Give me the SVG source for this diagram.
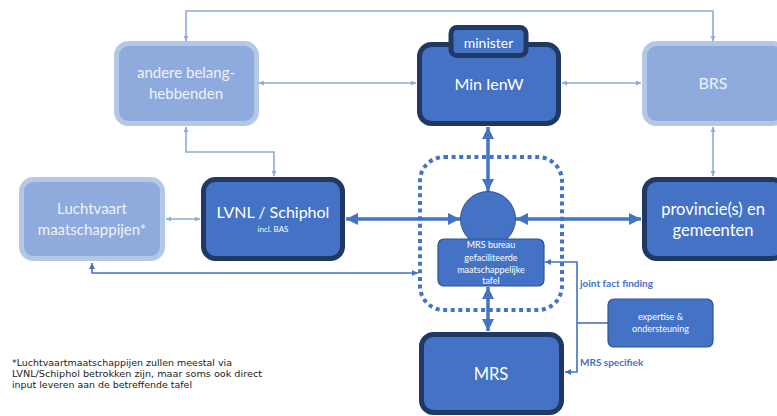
<svg xmlns="http://www.w3.org/2000/svg" width="777" height="416" viewBox="0 0 777 416">
<defs>
<style>
.light{fill:#8faadc;stroke:#b4c7e7;stroke-width:5}
.dark{fill:#4472c4;stroke:#203864;stroke-width:5}
.small{fill:#4472c4;stroke:#2f528f;stroke-width:1.2}
.t{font-family:Lato,"Open Sans","Liberation Sans",sans-serif;fill:#ffffff;text-anchor:middle}
.tl{fill:#eef2fa}
.thin{fill:none;stroke:#8faadc;stroke-width:1.6}
.thick{fill:none;stroke:#4472c4;stroke-width:3.5}
.med{fill:none;stroke:#4472c4;stroke-width:1.6}
.lab{font-family:Lato,"Open Sans","Liberation Sans",sans-serif;font-weight:bold;fill:#4472c4;font-size:10px}
.note{font-family:"DejaVu Sans",Verdana,sans-serif;fill:#222;font-size:9px}
</style>
<marker id="aL" viewBox="0 0 10 10" refX="10" refY="5" markerWidth="5" markerHeight="5" orient="auto-start-reverse" markerUnits="userSpaceOnUse"><path d="M0,0 L10,5 L0,10 z" fill="#8faadc"/></marker>
<marker id="aB" viewBox="0 0 10 10" refX="10" refY="5" markerWidth="12" markerHeight="12" orient="auto-start-reverse" markerUnits="userSpaceOnUse"><path d="M0,0 L10,5 L0,10 z" fill="#4472c4"/></marker>
<marker id="aM" viewBox="0 0 10 10" refX="10" refY="5" markerWidth="6" markerHeight="6" orient="auto-start-reverse" markerUnits="userSpaceOnUse"><path d="M0,0 L10,5 L0,10 z" fill="#4472c4"/></marker>
</defs>
<rect width="777" height="416" fill="#ffffff"/>

<g id="connectors">
<polyline class="thin" points="186,41 186,11 713,11 713,41" marker-start="url(#aL)" marker-end="url(#aL)"/>
<line class="thin" x1="259" y1="83" x2="416" y2="83" marker-start="url(#aL)" marker-end="url(#aL)"/>
<line class="thin" x1="562" y1="83" x2="641" y2="83" marker-start="url(#aL)" marker-end="url(#aL)"/>
<polyline class="thin" points="186,127 186,152 274,152 274,176" marker-start="url(#aL)" marker-end="url(#aL)"/>
<line class="thin" x1="713" y1="127" x2="713" y2="176" marker-start="url(#aL)" marker-end="url(#aL)"/>
<line class="thin" x1="166" y1="219" x2="200" y2="219" marker-start="url(#aL)" marker-end="url(#aL)"/>
<line class="thick" x1="346" y1="219" x2="460" y2="219" marker-start="url(#aB)" marker-end="url(#aB)"/>
<line class="thick" x1="516" y1="219" x2="641" y2="219" marker-start="url(#aB)" marker-end="url(#aB)"/>
<line class="thick" x1="488" y1="127" x2="488" y2="191" marker-start="url(#aB)" marker-end="url(#aB)"/>
<line class="thick" x1="488" y1="287" x2="488" y2="331" marker-start="url(#aB)" marker-end="url(#aB)"/>
<polyline class="med" points="92,263 92,273 418,273" marker-start="url(#aM)" marker-end="url(#aM)"/>
<polyline class="med" points="545,262 577,262 577,372 565,372" marker-start="url(#aM)" marker-end="url(#aM)"/>
<line class="med" x1="577" y1="323" x2="608" y2="323"/>
</g>

<rect x="420" y="157" width="142" height="153" rx="24" fill="none" stroke="#4472c4" stroke-width="4" stroke-dasharray="4 3.6"/>

<g id="andere">
<rect class="light" x="116.5" y="43.5" width="140" height="80" rx="12"/>
<text class="t tl" x="186" y="78" font-size="15">andere belang-</text>
<text class="t tl" x="186" y="99" font-size="15">hebbenden</text>
</g>
<g id="minienw">
<rect class="dark" x="419.5" y="44.5" width="139" height="79" rx="12"/>
<rect class="dark" x="451" y="27.5" width="75" height="28" rx="6" stroke-width="4"/>
<text class="t" x="488.5" y="48" font-size="14">minister</text>
<text class="t" x="489" y="90" font-size="16">Min IenW</text>
</g>
<g id="brs">
<rect class="light" x="644.5" y="43.5" width="140" height="80" rx="12"/>
<text class="t tl" x="713" y="89" font-size="16">BRS</text>
</g>
<g id="luchtvaart">
<rect class="light" x="21.5" y="179.5" width="141" height="79" rx="12"/>
<text class="t tl" x="92" y="214" font-size="15">Luchtvaart</text>
<text class="t tl" x="92" y="235" font-size="15">maatschappijen*</text>
</g>
<g id="lvnl">
<rect class="dark" x="203.5" y="179.5" width="139" height="79" rx="12"/>
<text class="t" x="273" y="218" font-size="16">LVNL / Schiphol</text>
<text class="t" x="273" y="232" font-size="8">incl. BAS</text>
</g>
<g id="provincie">
<rect class="dark" x="644.5" y="179.5" width="140" height="79" rx="12"/>
<text class="t" x="713" y="215" font-size="16.5">provincie(s) en</text>
<text class="t" x="713" y="236" font-size="16.5">gemeenten</text>
</g>
<g id="circle">
<circle cx="488" cy="219" r="27.5" fill="#4472c4" stroke="#2f528f" stroke-width="1"/>
</g>
<g id="mrsbureau">
<rect class="small" x="438" y="239" width="106" height="47" rx="6"/>
<text class="t" x="491" y="248" font-size="9">MRS bureau</text>
<text class="t" x="491" y="260.5" font-size="9">gefaciliteerde</text>
<text class="t" x="491" y="273" font-size="9">maatschappelijke</text>
<text class="t" x="491" y="284" font-size="9">tafel</text>
</g>
<g id="mrs">
<rect class="dark" x="421.5" y="334.5" width="140" height="78" rx="12"/>
<text class="t" x="491" y="380" font-size="16.5">MRS</text>
</g>
<g id="expertise">
<rect class="small" x="608" y="299" width="105" height="48" rx="6"/>
<text class="t" x="660.5" y="320" font-size="9">expertise &amp;</text>
<text class="t" x="660.5" y="332" font-size="9">ondersteuning</text>
</g>
<text class="lab" x="580" y="287">joint fact finding</text>
<text class="lab" x="580" y="366">MRS specifiek</text>
<g id="footnote">
<text class="note" x="12" y="366" textLength="220" lengthAdjust="spacingAndGlyphs">*Luchtvaartmaatschappijen zullen meestal via</text>
<text class="note" x="12" y="377" textLength="250" lengthAdjust="spacingAndGlyphs">LVNL/Schiphol betrokken zijn, maar soms ook direct</text>
<text class="note" x="12" y="388" textLength="180" lengthAdjust="spacingAndGlyphs">input leveren aan de betreffende tafel</text>
</g>
</svg>
